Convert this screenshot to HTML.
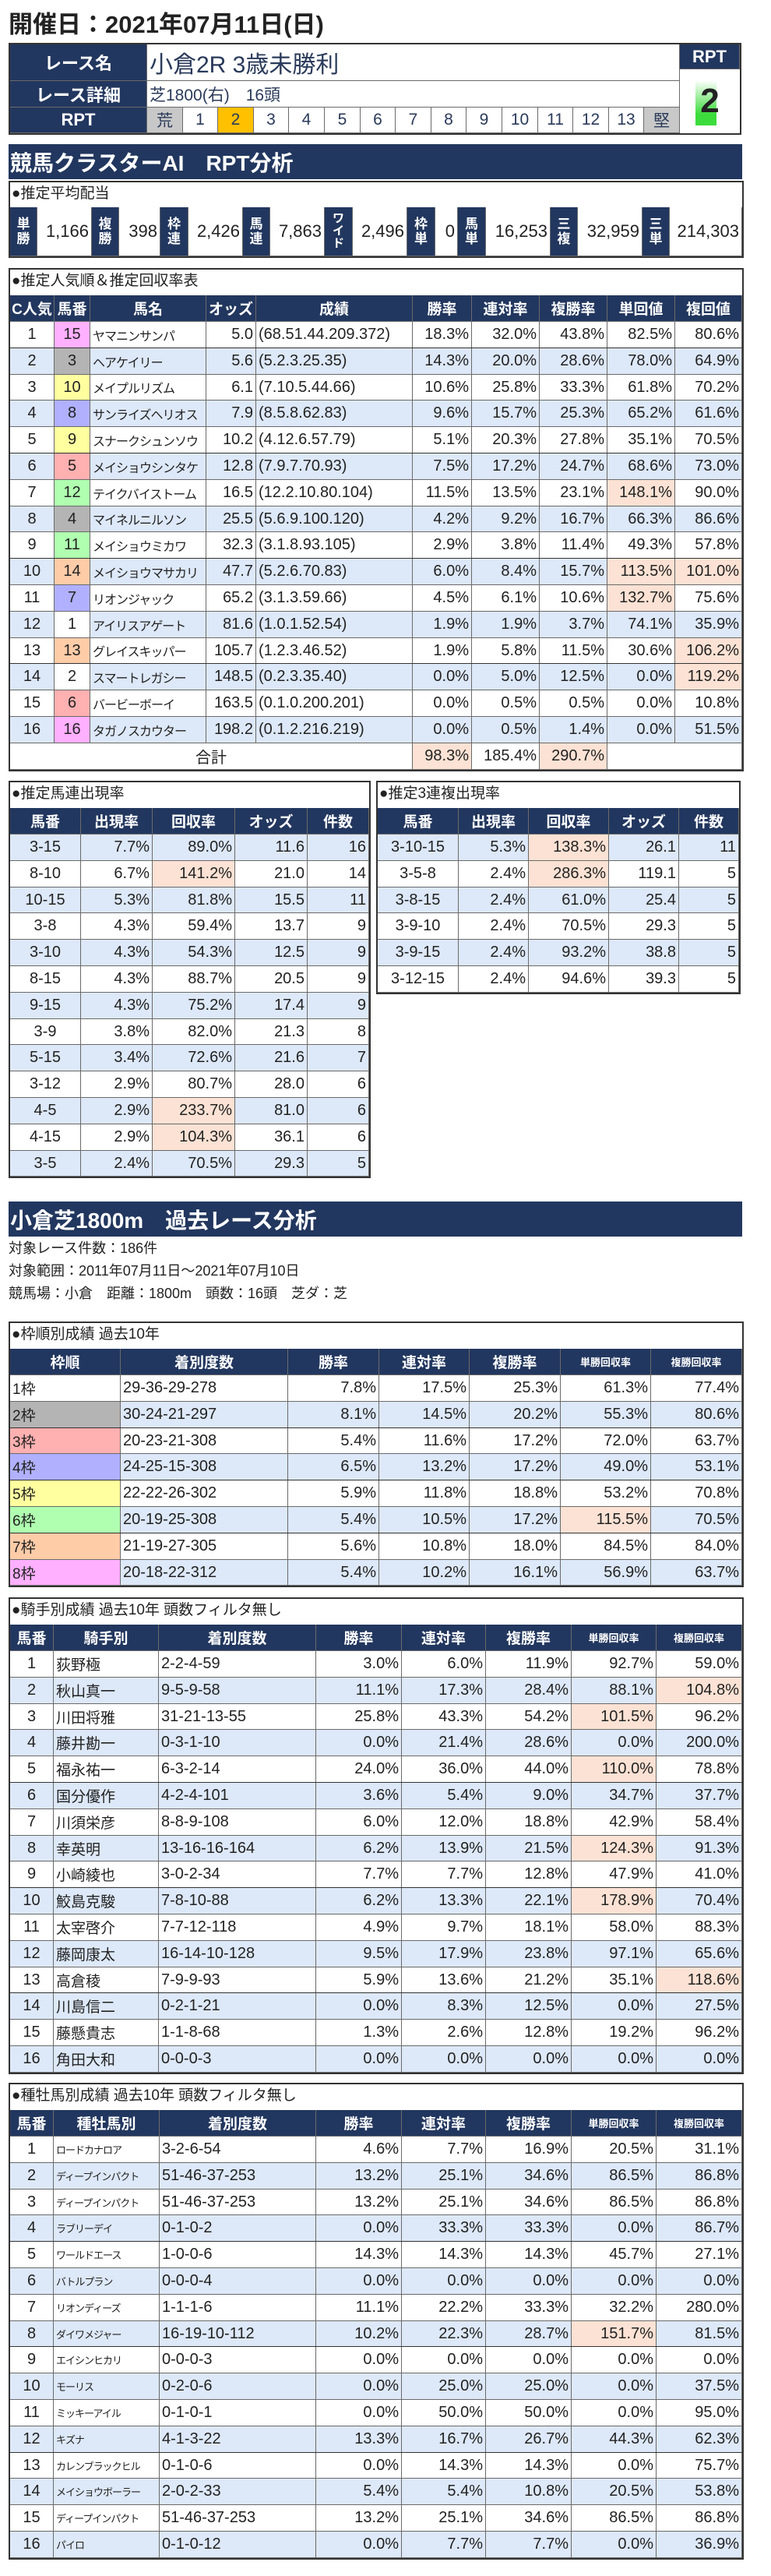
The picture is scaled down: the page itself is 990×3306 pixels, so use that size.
<!DOCTYPE html>
<html><head><meta charset="utf-8">
<style>
html,body{margin:0;padding:0;background:#fff;}
body{width:990px;height:3306px;position:relative;overflow:hidden;font-family:"Liberation Sans Narrow","Liberation Sans","Noto Sans CJK JP",sans-serif;color:#222;}
.a{position:absolute;box-sizing:border-box;}
.c{position:absolute;box-sizing:border-box;border-right:1px solid #6a6a6a;border-bottom:1px solid #6a6a6a;white-space:nowrap;overflow:hidden;display:flex;align-items:center;padding:0 3px;font-size:20px;}
.jp{font-family:"Liberation Sans","Noto Sans CJK JP",sans-serif;}
.hd{background:#22375f;color:#fff;font-weight:bold;justify-content:center;font-family:"Liberation Sans","Noto Sans CJK JP",sans-serif;font-size:19px;}
.box{position:absolute;box-sizing:border-box;border:2px solid #333;background:#fff;}
.ttl{position:absolute;font-family:"Liberation Sans","Noto Sans CJK JP",sans-serif;font-size:19px;line-height:34px;}
.ban{position:absolute;left:11px;width:942px;background:#22375f;color:#fff;font-weight:bold;font-family:"Liberation Sans","Noto Sans CJK JP",sans-serif;font-size:28px;display:flex;align-items:center;box-sizing:border-box;padding-left:2px;}
</style></head>
<body>
<div class="a jp" style="left:11px;top:12px;font-size:31px;font-weight:bold;line-height:40px;">開催日：2021年07月11日(日)</div>

<!-- header table -->
<div class="box" style="left:11px;top:55px;width:941px;height:118px;border-width:2px;"></div>
<div class="c hd" style="left:13px;top:57px;width:176px;height:47px;font-size:22px;">レース名</div>
<div class="c hd" style="left:13px;top:104px;width:176px;height:34px;font-size:22px;">レース詳細</div>
<div class="c hd" style="left:13px;top:138px;width:176px;height:33px;font-size:22px;">RPT</div>
<div class="c jp" style="left:189px;top:57px;width:684px;height:47px;font-size:30px;color:#2a3a5a;">小倉2R 3歳未勝利</div>
<div class="c jp" style="left:189px;top:104px;width:684px;height:34px;font-size:21px;color:#2a3a5a;">芝1800(右)　16頭</div>
<div id="rptscale"></div>
<div class="c hd" style="left:873px;top:57px;width:77px;height:32px;font-size:22px;">RPT</div>
<div class="a" style="left:893px;top:103px;width:27px;height:58px;background:linear-gradient(#fff,#3cdc3c 75%);"></div>
<div class="a" style="left:873px;top:89px;width:77px;height:82px;display:flex;align-items:center;justify-content:center;font-size:44px;font-weight:bold;font-family:'Liberation Sans',sans-serif;">2</div>

<div class="ban" style="top:185px;height:45px;">競馬クラスターAI　RPT分析</div>

<div id="root"></div>

<div class="ban" style="top:1542px;height:45px;">小倉芝1800m　過去レース分析</div>
<div class="a jp" style="left:11px;top:1589px;font-size:18px;line-height:26px;">対象レース件数：186件</div>
<div class="a jp" style="left:11px;top:1618px;font-size:18px;line-height:26px;">対象範囲：2011年07月11日～2021年07月10日</div>
<div class="a jp" style="left:11px;top:1647px;font-size:18px;line-height:26px;">競馬場：小倉　距離：1800m　頭数：16頭　芝ダ：芝</div>

<script>
// ---- data ----
const rptScale = ['荒','1','2','3','4','5','6','7','8','9','10','11','12','13','堅'];
const payoutLabels = ['単<br>勝','複<br>勝','枠<br>連','馬<br>連','ワ<br>イ<br>ド','枠<br>単','馬<br>単','三<br>複','三<br>単'];
const payoutValues = ['1,166','398','2,426','7,863','2,496','0','16,253','32,959','214,303'];
const popHeaders = ['C人気','馬番','馬名','オッズ','成績','勝率','連対率','複勝率','単回値','複回値'];
const popRows = [
['1','15','ヤマニンサンパ','5.0','(68.51.44.209.372)','18.3%','32.0%','43.8%','82.5%','80.6%'],
['2','3','ヘアケイリー','5.6','(5.2.3.25.35)','14.3%','20.0%','28.6%','78.0%','64.9%'],
['3','10','メイプルリズム','6.1','(7.10.5.44.66)','10.6%','25.8%','33.3%','61.8%','70.2%'],
['4','8','サンライズヘリオス','7.9','(8.5.8.62.83)','9.6%','15.7%','25.3%','65.2%','61.6%'],
['5','9','スナークシュンソウ','10.2','(4.12.6.57.79)','5.1%','20.3%','27.8%','35.1%','70.5%'],
['6','5','メイショウシンタケ','12.8','(7.9.7.70.93)','7.5%','17.2%','24.7%','68.6%','73.0%'],
['7','12','テイクバイストーム','16.5','(12.2.10.80.104)','11.5%','13.5%','23.1%','148.1%*','90.0%'],
['8','4','マイネルニルソン','25.5','(5.6.9.100.120)','4.2%','9.2%','16.7%','66.3%','86.6%'],
['9','11','メイショウミカワ','32.3','(3.1.8.93.105)','2.9%','3.8%','11.4%','49.3%','57.8%'],
['10','14','メイショウマサカリ','47.7','(5.2.6.70.83)','6.0%','8.4%','15.7%','113.5%*','101.0%*'],
['11','7','リオンジャック','65.2','(3.1.3.59.66)','4.5%','6.1%','10.6%','132.7%*','75.6%'],
['12','1','アイリスアゲート','81.6','(1.0.1.52.54)','1.9%','1.9%','3.7%','74.1%','35.9%'],
['13','13','グレイスキッパー','105.7','(1.2.3.46.52)','1.9%','5.8%','11.5%','30.6%','106.2%*'],
['14','2','スマートレガシー','148.5','(0.2.3.35.40)','0.0%','5.0%','12.5%','0.0%','119.2%*'],
['15','6','バービーボーイ','163.5','(0.1.0.200.201)','0.0%','0.5%','0.5%','0.0%','10.8%'],
['16','16','タガノスカウター','198.2','(0.1.2.216.219)','0.0%','0.5%','1.4%','0.0%','51.5%']];
const popTotals = ['98.3%*','185.4%','290.7%*'];
const pairHeaders = ['馬番','出現率','回収率','オッズ','件数'];
const quinellaRows = [
['3-15','7.7%','89.0%','11.6','16'],['8-10','6.7%','141.2%*','21.0','14'],['10-15','5.3%','81.8%','15.5','11'],
['3-8','4.3%','59.4%','13.7','9'],['3-10','4.3%','54.3%','12.5','9'],['8-15','4.3%','88.7%','20.5','9'],
['9-15','4.3%','75.2%','17.4','9'],['3-9','3.8%','82.0%','21.3','8'],['5-15','3.4%','72.6%','21.6','7'],
['3-12','2.9%','80.7%','28.0','6'],['4-5','2.9%','233.7%*','81.0','6'],['4-15','2.9%','104.3%*','36.1','6'],
['3-5','2.4%','70.5%','29.3','5']];
const trioRows = [
['3-10-15','5.3%','138.3%*','26.1','11'],['3-5-8','2.4%','286.3%*','119.1','5'],['3-8-15','2.4%','61.0%','25.4','5'],
['3-9-10','2.4%','70.5%','29.3','5'],['3-9-15','2.4%','93.2%','38.8','5'],['3-12-15','2.4%','94.6%','39.3','5']];
const statHeadersFrame = ['枠順','着別度数','勝率','連対率','複勝率','単勝回収率','複勝回収率'];
const frameRows = [
['1枠','29-36-29-278','7.8%','17.5%','25.3%','61.3%','77.4%'],
['2枠','30-24-21-297','8.1%','14.5%','20.2%','55.3%','80.6%'],
['3枠','20-23-21-308','5.4%','11.6%','17.2%','72.0%','63.7%'],
['4枠','24-25-15-308','6.5%','13.2%','17.2%','49.0%','53.1%'],
['5枠','22-22-26-302','5.9%','11.8%','18.8%','53.2%','70.8%'],
['6枠','20-19-25-308','5.4%','10.5%','17.2%','115.5%*','70.5%'],
['7枠','21-19-27-305','5.6%','10.8%','18.0%','84.5%','84.0%'],
['8枠','20-18-22-312','5.4%','10.2%','16.1%','56.9%','63.7%']];
const jockeyHeaders = ['馬番','騎手別','着別度数','勝率','連対率','複勝率','単勝回収率','複勝回収率'];
const jockeyRows = [
['1','荻野極','2-2-4-59','3.0%','6.0%','11.9%','92.7%','59.0%'],
['2','秋山真一','9-5-9-58','11.1%','17.3%','28.4%','88.1%','104.8%*'],
['3','川田将雅','31-21-13-55','25.8%','43.3%','54.2%','101.5%*','96.2%'],
['4','藤井勘一','0-3-1-10','0.0%','21.4%','28.6%','0.0%','200.0%'],
['5','福永祐一','6-3-2-14','24.0%','36.0%','44.0%','110.0%*','78.8%'],
['6','国分優作','4-2-4-101','3.6%','5.4%','9.0%','34.7%','37.7%'],
['7','川須栄彦','8-8-9-108','6.0%','12.0%','18.8%','42.9%','58.4%'],
['8','幸英明','13-16-16-164','6.2%','13.9%','21.5%','124.3%*','91.3%'],
['9','小崎綾也','3-0-2-34','7.7%','7.7%','12.8%','47.9%','41.0%'],
['10','鮫島克駿','7-8-10-88','6.2%','13.3%','22.1%','178.9%*','70.4%'],
['11','太宰啓介','7-7-12-118','4.9%','9.7%','18.1%','58.0%','88.3%'],
['12','藤岡康太','16-14-10-128','9.5%','17.9%','23.8%','97.1%','65.6%'],
['13','高倉稜','7-9-9-93','5.9%','13.6%','21.2%','35.1%','118.6%*'],
['14','川島信二','0-2-1-21','0.0%','8.3%','12.5%','0.0%','27.5%'],
['15','藤懸貴志','1-1-8-68','1.3%','2.6%','12.8%','19.2%','96.2%'],
['16','角田大和','0-0-0-3','0.0%','0.0%','0.0%','0.0%','0.0%']];
const sireHeaders = ['馬番','種牡馬別','着別度数','勝率','連対率','複勝率','単勝回収率','複勝回収率'];
const sireRows = [
['1','ロードカナロア','3-2-6-54','4.6%','7.7%','16.9%','20.5%','31.1%'],
['2','ディープインパクト','51-46-37-253','13.2%','25.1%','34.6%','86.5%','86.8%'],
['3','ディープインパクト','51-46-37-253','13.2%','25.1%','34.6%','86.5%','86.8%'],
['4','ラブリーデイ','0-1-0-2','0.0%','33.3%','33.3%','0.0%','86.7%'],
['5','ワールドエース','1-0-0-6','14.3%','14.3%','14.3%','45.7%','27.1%'],
['6','バトルプラン','0-0-0-4','0.0%','0.0%','0.0%','0.0%','0.0%'],
['7','リオンディーズ','1-1-1-6','11.1%','22.2%','33.3%','32.2%','280.0%'],
['8','ダイワメジャー','16-19-10-112','10.2%','22.3%','28.7%','151.7%*','81.5%'],
['9','エイシンヒカリ','0-0-0-3','0.0%','0.0%','0.0%','0.0%','0.0%'],
['10','モーリス','0-2-0-6','0.0%','25.0%','25.0%','0.0%','37.5%'],
['11','ミッキーアイル','0-1-0-1','0.0%','50.0%','50.0%','0.0%','95.0%'],
['12','キズナ','4-1-3-22','13.3%','16.7%','26.7%','44.3%','62.3%'],
['13','カレンブラックヒル','0-1-0-6','0.0%','14.3%','14.3%','0.0%','75.7%'],
['14','メイショウボーラー','2-0-2-33','5.4%','5.4%','10.8%','20.5%','53.8%'],
['15','ディープインパクト','51-46-37-253','13.2%','25.1%','34.6%','86.5%','86.8%'],
['16','パイロ','0-1-0-12','0.0%','7.7%','7.7%','0.0%','36.9%']];

const BLUE='#dde8f8', PEACH='#fce2d4';
const horseColor=['#fff','#fff','#b4b4b4','#b4b4b4','#ffb0b0','#ffb0b0','#b0b0ff','#b0b0ff','#ffffa0','#ffffa0','#b0ffb0','#b0ffb0','#ffcca8','#ffcca8','#ffb0ff','#ffb0ff'];
const frameColor=['#fff','#b4b4b4','#ffb0b0','#b0b0ff','#ffffa0','#b0ffb0','#ffcca8','#ffb0ff'];

const root=document.getElementById('root');
function mk(cls,x,y,w,h,html,name,style){
  const d=document.createElement('div');
  d.className=cls;
  d.style.cssText='left:'+x+'px;top:'+y+'px;width:'+w+'px;height:'+h+'px;'+(style||'');
  d.innerHTML=html;
  
  
  root.appendChild(d);
  return d;
}
function val(t){let hi=false;if(t.endsWith('*')){hi=true;t=t.slice(0,-1);}return [t,hi];}

// RPT scale
rptScale.forEach((s,i)=>{
  const x0=Math.round(189+i*45.6), x1=Math.round(189+(i+1)*45.6);
  let bg='#fff'; if(i===0||i===14) bg='#c8c8c8'; if(s==='2') bg='#ffc000';
  mk('c jp',x0,138,x1-x0,33,s,'rpt-scale-cell','justify-content:center;font-size:21px;color:#2a3a5a;background:'+bg+';');
});

// payout box
mk('box',11,232,944,99,'','payout-box','');
mk('ttl',15,232,400,34,'●推定平均配当','payout-title','');
const payX=[13,48,118,153,206,242,312,347,417,453,523,559,588,624,707,742,825,860,953];
payoutLabels.forEach((l,i)=>{
  const a=payX[2*i],b=payX[2*i+1],c=payX[2*i+2];
  mk('c hd',a,266,b-a,63,l,'payout-label','font-size:'+(i===4?15:17)+'px;line-height:'+(i===4?16:19)+'px;text-align:center;padding:0;');
  mk('c',b,266,c-b,63,payoutValues[i],'payout-value','justify-content:flex-end;font-size:22px;');
});

function thickLine(x,y,w,name){mk('a',x,y-1,w,3,'',name||'group-separator','background:#333;');}

// popularity table
(function(){
  const top=344, cols=[13,70,116,265,329,530,606,693,780,867,953], rh=33.8;
  const nRows=popRows.length;
  const bottom=Math.round(413+rh*(nRows+1));
  mk('box',11,top,944,bottom-top+2,'','popularity-table','');
  mk('ttl',15,top,600,34,'●推定人気順＆推定回収率表','popularity-title','');
  popHeaders.forEach((h,i)=>mk('c hd',cols[i],379,cols[i+1]-cols[i],34,h,'popularity-header',''));
  popRows.forEach((r,ri)=>{
    const y=Math.round(413+rh*ri), y2=Math.round(413+rh*(ri+1));
    const rowBg= ri%2===1?BLUE:'#fff';
    r.forEach((t,ci)=>{
      let [txt,hi]=val(t);
      let bg=rowBg, al='flex-end', extra='';
      if(ci===1){bg=horseColor[parseInt(txt)-1];al='center';}
      if(ci===0) al='center';
      if(ci===2){al='flex-start';extra='font-size:16px;font-family:"Liberation Sans","Noto Sans CJK JP",sans-serif;letter-spacing:-1px;';}
      if(ci===4){al='flex-start';}
      if(hi) bg=PEACH;
      mk('c',cols[ci],y,cols[ci+1]-cols[ci],y2-y,txt,'popularity-cell','justify-content:'+al+';background:'+bg+';'+extra);
    });
    if([1,5,9,13].includes(ri+1)) thickLine(13,y2,940);
  });
  const y=Math.round(413+rh*nRows);
  mk('c jp',13,y,cols[5]-13,bottom-y,'合計','total-label','justify-content:center;');
  popTotals.forEach((t,i)=>{const [txt,hi]=val(t);mk('c',cols[5+i],y,cols[6+i]-cols[5+i],bottom-y,txt,'total-value','justify-content:flex-end;background:'+(hi?PEACH:'#fff')+';');});
  mk('c',cols[8],y,cols[10]-cols[8],bottom-y,'','total-blank','');
})();

// pair tables
function pairTable(x0,cols,title,rows,name){
  const top=1002, rh=33.8;
  const bottom=Math.round(1071+rh*rows.length);
  mk('box',x0-2,top,cols[cols.length-1]-x0+4,bottom-top+2,'',name,'');
  mk('ttl',x0+2,top,400,34,title,name+'-title','');
  pairHeaders.forEach((h,i)=>mk('c hd',cols[i],1037,cols[i+1]-cols[i],34,h,name+'-header',''));
  rows.forEach((r,ri)=>{
    const y=Math.round(1071+rh*ri), y2=Math.round(1071+rh*(ri+1));
    r.forEach((t,ci)=>{
      const [txt,hi]=val(t);
      const bg=hi?PEACH:(ri%2===0?BLUE:'#fff');
      mk('c',cols[ci],y,cols[ci+1]-cols[ci],y2-y,txt,name+'-cell','justify-content:'+(ci===0?'center':'flex-end')+';background:'+bg+';');
    });
  });
}
pairTable(13,[13,104,196,302,395,474],'●推定馬連出現率',quinellaRows,'quinella-table');
pairTable(485,[485,589,679,782,872,949],'●推定3連複出現率',trioRows,'trio-table');

// stat tables
function statTable(top,cols,title,headers,rows,name,opts){
  const rh=33.8, hy=top+35, ry=top+69;
  const bottom=Math.round(ry+rh*rows.length);
  mk('box',11,top,944,bottom-top+2,'',name,'');
  mk('ttl',15,top,700,34,title,name+'-title','');
  headers.forEach((h,i)=>mk('c hd',cols[i],hy,cols[i+1]-cols[i],34,h,name+'-header',h.length>4?'font-size:13px;':''));
  rows.forEach((r,ri)=>{
    const y=Math.round(ry+rh*ri), y2=Math.round(ry+rh*(ri+1));
    r.forEach((t,ci)=>{
      const [txt,hi]=val(t);
      let bg=ri%2===1?BLUE:'#fff', al='flex-end', extra='';
      if(opts.leftCols.includes(ci)) al='flex-start';
      if(opts.centerCols.includes(ci)) al='center';
      if(opts.frame&&ci===0) bg=frameColor[ri];
      if(opts.nameCol===ci) extra='font-family:"Liberation Sans","Noto Sans CJK JP",sans-serif;font-size:'+opts.nameSize+'px;letter-spacing:'+(opts.nameSize<15?'-1px':'0')+';';
      if(hi) bg=PEACH;
      mk('c',cols[ci],y,cols[ci+1]-cols[ci],y2-y,txt,name+'-cell','justify-content:'+al+';background:'+bg+';'+extra);
    });
    if(opts.thick.includes(ri+1)) thickLine(13,y2,940);
  });
}
statTable(1696,[13,155,370,487,603,720,836,953],'●枠順別成績 過去10年',statHeadersFrame,frameRows,'frame-table',{leftCols:[0,1],centerCols:[],frame:true,nameCol:0,nameSize:19,thick:[2,4,6]});
statTable(2050,[13,69,204,406,516,624,734,843,953],'●騎手別成績 過去10年 頭数フィルタ無し',jockeyHeaders,jockeyRows,'jockey-table',{leftCols:[1,2],centerCols:[0],nameCol:1,nameSize:19,thick:[5,9,13]});
statTable(2673,[13,69,205,406,516,624,734,843,953],'●種牡馬別成績 過去10年 頭数フィルタ無し',sireHeaders,sireRows,'sire-table',{leftCols:[1,2],centerCols:[0],nameCol:1,nameSize:13,thick:[4,8,12]});
</script>
</body></html>
